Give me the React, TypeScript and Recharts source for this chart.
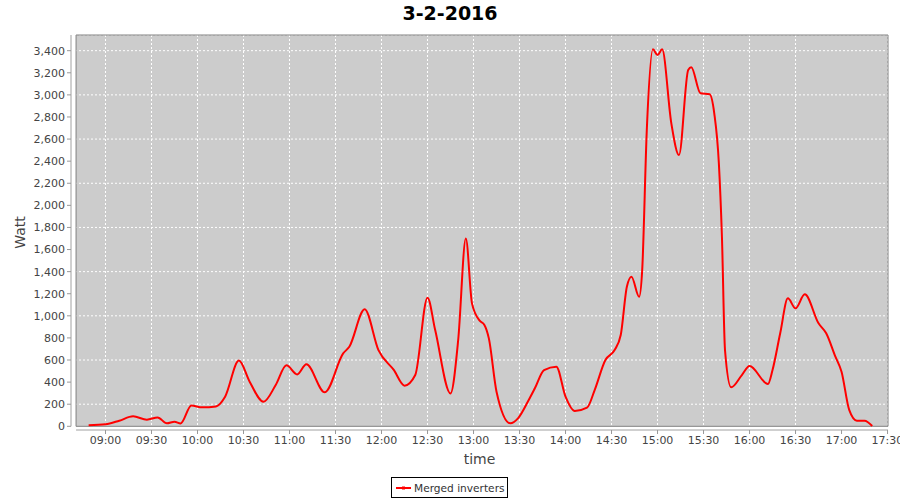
import { LineChart, Line, XAxis, YAxis, CartesianGrid, ReferenceArea, ReferenceLine } from "recharts";

// minutes since midnight
const times = [
  529, 540, 549, 558, 567, 574, 580, 585, 589, 596, 603, 612, 618, 627, 634, 643, 651, 658, 665, 671,
  683, 695, 699, 709, 718, 728, 735, 742, 750, 755, 765, 770, 775, 779, 784, 787, 790, 795, 804, 809,
  816, 820, 826, 834, 840, 846, 854, 859, 866, 872, 876, 880, 883, 888, 890, 893, 897, 900, 903, 909,
  914, 920, 922, 928, 934, 937, 940, 942, 944, 948, 955, 960, 972, 975, 980, 985, 990, 996, 1005, 1010,
  1016, 1020, 1025, 1030, 1035, 1040,
];
const watts = [
  9, 18, 51, 90, 60, 80, 27, 42, 26, 188, 172, 180, 268, 595, 404, 222, 374, 552, 470, 561,
  308, 660, 720, 1059, 690, 510, 368, 464, 1164, 871, 298, 781, 1701, 1113, 956, 920, 796, 313, 27, 72,
  238, 344, 509, 540, 268, 138, 168, 328, 600, 690, 826, 1263, 1354, 1173, 1414, 2681, 3412, 3360, 3412, 2742,
  2455, 3225, 3249, 3014, 3005, 2833, 2380, 1716, 690, 353, 464, 546, 383, 510, 842, 1158, 1068, 1195, 932, 842,
  630, 494, 148, 51, 51, 3,
];
const xTicks = [540, 570, 600, 630, 660, 690, 720, 750, 780, 810, 840, 870, 900, 930, 960, 990, 1020, 1050];
const yTicks = [0, 200, 400, 600, 800, 1000, 1200, 1400, 1600, 1800, 2000, 2200, 2400, 2600, 2800, 3000, 3200, 3400];

const data = times.map((t, i) => ({ t, w: watts[i] }));

const X_MIN = 517.5;
const X_PLOT = 520.8;
const X_MAX = 1050.3;
const Y_MIN = -33.5;
const Y_MAX = 3542;

const font = "'DejaVu Sans', sans-serif";

const fmtTime = (m: number) => {
  const h = Math.floor(m / 60);
  const mm = m % 60;
  return `${String(h).padStart(2, "0")}:${String(mm).padStart(2, "0")}`;
};

export default function App() {
  return (
    <div style={{ position: "absolute", left: 0, top: 0, width: 900, height: 500, background: "#fff", fontFamily: font }}>
      <div
        style={{
          position: "absolute",
          left: 0,
          top: 2,
          width: 900,
          textAlign: "center",
          fontSize: 19,
          fontWeight: "bold",
          color: "#000",
        }}
      >
        3-2-2016
      </div>
      <LineChart width={900} height={500} data={data} margin={{ top: 35, right: 12, left: 11, bottom: 30 }}>
        <CartesianGrid stroke="#ffffff" strokeDasharray="2 2" fill="#cccccc" fillOpacity={1} />
        {/* white gaps between the axes and the plot box */}
        <ReferenceArea x1={X_MIN} x2={X_PLOT} y1={Y_MIN} y2={Y_MAX} fill="#ffffff" fillOpacity={1} stroke="none" />
        <ReferenceArea x1={X_MIN} x2={X_MAX} y1={Y_MIN} y2={0} fill="#ffffff" fillOpacity={1} stroke="none" />
        <ReferenceArea x1={X_PLOT} x2={X_MAX} y1={0} y2={Y_MAX} fill="none" stroke="#808080" strokeWidth={1} />
        <XAxis
          dataKey="t"
          type="number"
          domain={[X_MIN, X_MAX]}
          ticks={xTicks}
          tickFormatter={fmtTime}
          allowDataOverflow
          height={40}
          axisLine={false}
          tickSize={4}
          tickLine={{ stroke: "#999" }}
          tick={{ fontSize: 11, fill: "#444", fontFamily: font }}
          label={{ value: "time", position: "insideBottom", offset: 6, style: { fontSize: 14, fill: "#444", fontFamily: font } }}
        />
        <YAxis
          type="number"
          domain={[Y_MIN, Y_MAX]}
          ticks={yTicks}
          allowDataOverflow
          width={60}
          axisLine={false}
          tickSize={4}
          tickLine={{ stroke: "#999" }}
          tickFormatter={(v: number) => v.toLocaleString("en-US")}
          tick={{ fontSize: 11, fill: "#444", fontFamily: font }}
          label={{ value: "Watt", angle: -90, position: "insideLeft", offset: 9, style: { fontSize: 14, fill: "#444", fontFamily: font, textAnchor: "middle" } }}
        />
        <ReferenceLine segment={[{ x: X_MIN, y: 0 }, { x: X_MIN, y: Y_MAX }]} stroke="#a0a0a0" />
        <ReferenceLine segment={[{ x: X_PLOT, y: Y_MIN }, { x: X_MAX, y: Y_MIN }]} stroke="#a0a0a0" />
        <Line type="monotone" dataKey="w" stroke="#ff0000" strokeWidth={2} dot={false} isAnimationActive={false} />
      </LineChart>
      <div
        style={{
          position: "absolute",
          left: 391,
          top: 477,
          width: 115,
          height: 19,
          border: "1px solid #000",
          display: "flex",
          alignItems: "center",
          fontSize: 10.6,
          color: "#333",
          whiteSpace: "nowrap",
        }}
      >
        <svg width={20} height={10} style={{ marginLeft: 2, flexShrink: 0 }}>
          <line x1={2} y1={5} x2={17} y2={5} stroke="#ff0000" strokeWidth={2} />
          <rect x={8} y={3.5} width={3} height={3} fill="#ff0000" />
        </svg>
        <span>Merged inverters</span>
      </div>
    </div>
  );
}
